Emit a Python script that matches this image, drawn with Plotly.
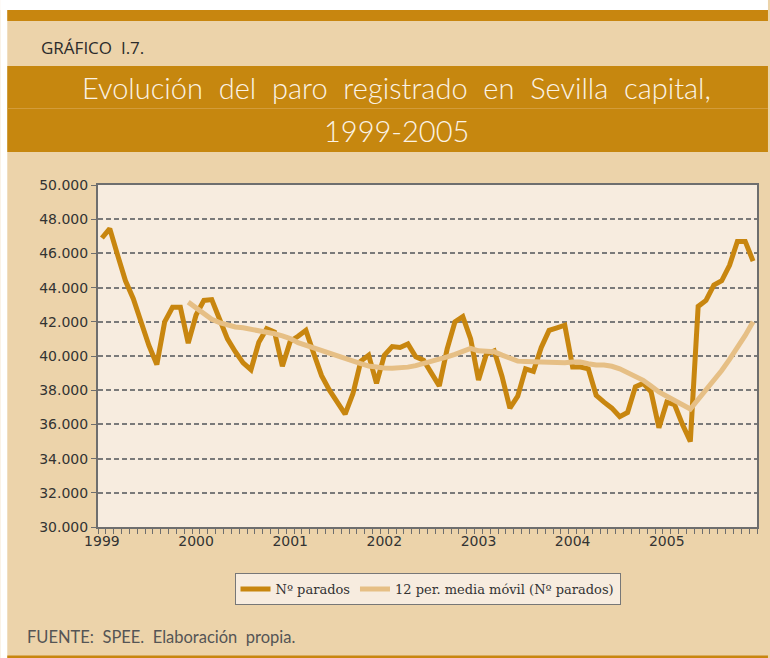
import plotly.graph_objects as go

# ---------------- data ----------------
years = ["1999", "2000", "2001", "2002", "2003", "2004", "2005"]
months_per_year = 12

parados = [
    46900, 47450, 45900, 44400, 43350, 42000, 40600, 39500, 42000, 42850, 42850, 40750,  # 1999
    42400, 43250, 43300, 42150, 41000, 40250, 39600, 39200, 40800, 41600, 41400, 39400,  # 2000
    40850, 41150, 41500, 40150, 38850, 38000, 37250, 36600, 37800, 39700, 40050, 38400,  # 2001
    40050, 40550, 40500, 40700, 39950, 39750, 39000, 38250, 40400, 42000, 42300, 41000,  # 2002
    38600, 40100, 40300, 38800, 36950, 37650, 39250, 39100, 40500, 41500, 41650, 41800,  # 2003
    39350, 39350, 39250, 37700, 37300, 36950, 36450, 36700, 38200, 38400, 37900, 35800,  # 2004
    37300, 37150, 36000, 35000, 42900, 43250, 44150, 44400, 45300, 46700, 46700, 45550,  # 2005
]

media_movil = [None] * 11 + [
    43150,                                                                               # 1999-12
    42800, 42450, 42150, 41950, 41800, 41700, 41650, 41570, 41500, 41400, 41300, 41180,  # 2000
    41020, 40780, 40620, 40460, 40300, 40150, 40000, 39820, 39680, 39550, 39420, 39340,  # 2001
    39300, 39280, 39280, 39350, 39440, 39560, 39680, 39780, 39950, 40100, 40270, 40450,  # 2002
    40300, 40250, 40250, 40050, 39850, 39700, 39680, 39670, 39650, 39600, 39570, 39600,  # 2003
    39650, 39650, 39550, 39470, 39470, 39400, 39250, 39050, 38850, 38580, 38250, 37900,  # 2004
    37650, 37430, 37150, 36900, 37450, 38000, 38550, 39150, 39800, 40450, 41200, 42000,  # 2005
]

series_names = ["N\u00ba parados", "12 per. media m\u00f3vil (N\u00ba parados)"]
y_ticks = list(range(30000, 50001, 2000))

title_text = "Evoluci\u00f3n  del  paro  registrado  en  Sevilla  capital,"
title_text2 = "1999-2005"
chart_label = "GR\u00c1FICO  I.7."
source_text = "FUENTE:  SPEE.  Elaboraci\u00f3n  propia."

# ---------------- styles ----------------
DARK = "#C8860F"
LIGHT = "#E6BF85"
BAND = "#C6870F"
BEIGE = "#ECD3AA"
PLOTBG = "#F7ECDF"
AXIS = "#6E6E6E"

W, H = 770, 658
L, R, T, B = 98, 759, 185, 527


def px(x):
    return (x - L) / (R - L)


def py(y):
    return (B - y) / (B - T)


x_idx = list(range(len(parados)))
year_pos = [i * months_per_year for i in range(len(years))]

fig = go.Figure()
fig.add_trace(go.Scatter(x=x_idx, y=parados, mode="lines", name=series_names[0],
                         line=dict(color=DARK, width=5)))
fig.add_trace(go.Scatter(x=x_idx, y=media_movil, mode="lines", name=series_names[1],
                         line=dict(color=LIGHT, width=5)))


def rect(x0, y0, x1, y1, color):
    return dict(type="rect", xref="paper", yref="paper", x0=px(x0), x1=px(x1),
                y0=py(y1), y1=py(y0), fillcolor=color, line=dict(width=0), layer="below")


shapes = [
    rect(0, 0, W, 10, "white"),
    rect(0, 0, 7, H, "white"),
    rect(7, 10, W, 21, DARK),
    rect(7, 66, W, 152, BAND),
    dict(type="line", xref="paper", yref="paper", x0=px(7), x1=px(W), y0=py(108.5), y1=py(108.5),
         line=dict(color="#D39C3A", width=1), layer="below"),
    rect(7, 655.5, W, H, DARK),
]

annotations = [
    dict(text=chart_label, x=px(39), y=py(48), xref="paper", yref="paper", showarrow=False,
         xanchor="left", yanchor="middle",
         font=dict(family="Open Sans", size=17, color="#2b2b2b", weight=500)),
    dict(text=title_text, x=px(397), y=py(88), xref="paper", yref="paper", showarrow=False,
         xanchor="center", yanchor="middle",
         font=dict(family="Lato", size=29, color="#FBF3E6", weight=300)),
    dict(text=title_text2, x=px(397), y=py(130), xref="paper", yref="paper", showarrow=False,
         xanchor="center", yanchor="middle",
         font=dict(family="Lato", size=29, color="#FBF3E6", weight=300)),
    dict(text=source_text, x=px(25), y=py(637), xref="paper", yref="paper", showarrow=False,
         xanchor="left", yanchor="middle",
         font=dict(family="Lato", size=16.5, color="#555555")),
]

fig.update_layout(
    width=W, height=H, autosize=False,
    margin=dict(l=L, r=W - R, t=T, b=H - B, pad=0),
    paper_bgcolor=BEIGE, plot_bgcolor=PLOTBG,
    separators=",.",
    shapes=shapes, annotations=annotations,
    showlegend=True,
    legend=dict(orientation="h", x=0.5, xanchor="center", y=py(573), yanchor="top",
                bgcolor=PLOTBG, bordercolor="#777777", borderwidth=1,
                font=dict(family="DejaVu Serif", size=13, color="#333333"),
                itemwidth=30, tracegroupgap=0),
    xaxis=dict(range=[-0.5, len(parados) - 0.5], tickmode="array", tickvals=year_pos,
               ticktext=years, ticks="", showgrid=False, zeroline=False,
               showline=True, linecolor=AXIS, linewidth=2, mirror=True,
               tickfont=dict(family="DejaVu Sans", size=14, color="#333333"),
               minor=dict(ticks="outside", ticklen=5, tickcolor=AXIS, tickwidth=1,
                          tick0=-0.5, dtick=1, showgrid=False)),
    yaxis=dict(range=[30000, 50000], tickmode="array", tickvals=y_ticks,
               tickformat=",d", ticks="outside", ticklen=5, tickcolor=AXIS,
               showgrid=True, gridcolor="#7A7A7A", gridwidth=1.5, griddash="5px,3px",
               zeroline=False, showline=True, linecolor=AXIS, linewidth=2, mirror=True,
               tickfont=dict(family="DejaVu Sans", size=14, color="#333333")),
)

fig.write_html("out.html", config={"displayModeBar": False},
               post_script="document.body.style.margin='0';document.body.style.overflow='hidden';")
